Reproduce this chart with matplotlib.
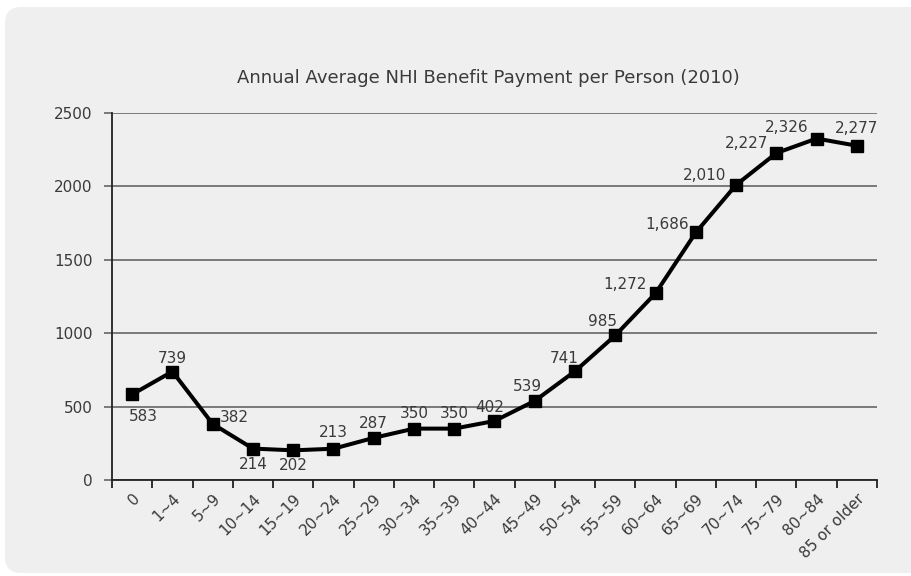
import matplotlib
matplotlib.use("Agg")
import matplotlib.pyplot as plt
from matplotlib.patches import FancyBboxPatch
from matplotlib.transforms import IdentityTransform

plt.rcParams['font.family'] = ['DejaVu Sans']

age_groups = ['0', '1~4', '5~9', '10~14', '15~19', '20~24', '25~29', '30~34',
              '35~39', '40~44', '45~49', '50~54', '55~59', '60~64', '65~69',
              '70~74', '75~79', '80~84', '85 or older']
payment = [583, 739, 382, 214, 202, 213, 287, 350, 350, 402, 539, 741, 985,
           1272, 1686, 2010, 2227, 2326, 2277]
# where each value label sits relative to its marker (pixels, y up)
label_offsets = [(11, -22), (0, 13), (22, 6), (0, -16), (0, -15), (0, 16),
                 (0, 14), (0, 15), (0, 15), (-5, 13), (-7, 14), (-11, 13),
                 (-13, 14), (-31, 9), (-29, 8), (-32, 9), (-30, 10), (-30, 11),
                 (0, 17)]

bg = '#efefef'
txt = '#3a3a3a'
grid_c = '#707070'

fig = plt.figure(figsize=(9.12, 5.76), dpi=100)
fig.patch.set_facecolor('white')
# rounded grey card behind the chart, in pixel units
panel = FancyBboxPatch((5, 3), 930, 566,
                       boxstyle='round,pad=0,rounding_size=16',
                       transform=IdentityTransform(), facecolor=bg,
                       edgecolor='none', zorder=-10)
fig.patches.append(panel)

ax = fig.add_axes([112 / 912, 96 / 576, 765 / 912, 367 / 576])
ax.patch.set_alpha(0)

x = list(range(len(age_groups)))
ax.plot(x, payment, color='black', lw=2.9, marker='s', markersize=8,
        zorder=3, clip_on=False)

for xi, v, (dx, dy) in zip(x, payment, label_offsets):
    ax.annotate(f'{v:,}', (xi, v), xytext=(dx, dy), textcoords='offset pixels',
                ha='center', va='center', fontsize=11, color=txt)

ax.set_xlim(-0.5, len(age_groups) - 0.5)
ax.set_ylim(0, 2500)
ax.set_yticks([0, 500, 1000, 1500, 2000, 2500])
ax.yaxis.grid(True, color=grid_c, lw=1.3)
ax.set_axisbelow(True)
ax.tick_params(axis='y', length=6, color=grid_c, width=1.3, labelsize=11,
               labelcolor=txt, pad=8)

ax.set_xticks([i - 0.5 for i in range(len(age_groups) + 1)], minor=False)
ax.set_xticklabels([])
ax.set_xticks(x, minor=True)
ax.set_xticklabels(age_groups, minor=True, rotation=45, ha='right',
                   rotation_mode='anchor', fontsize=11, color=txt)
ax.tick_params(axis='x', which='major', length=6, width=1.3, color='#222222')
ax.tick_params(axis='x', which='minor', length=0, pad=8)

for s in ['top', 'right']:
    ax.spines[s].set_visible(False)
ax.spines['left'].set_color('#222222')
ax.spines['bottom'].set_color('#222222')
ax.spines['left'].set_linewidth(1.3)
ax.spines['bottom'].set_linewidth(1.3)

fig.text(488 / 912, 1 - 78 / 576,
         'Annual Average NHI Benefit Payment per Person (2010)',
         ha='center', va='center', fontsize=13, color=txt)

fig.savefig('out.png', dpi=100, facecolor=fig.get_facecolor())
